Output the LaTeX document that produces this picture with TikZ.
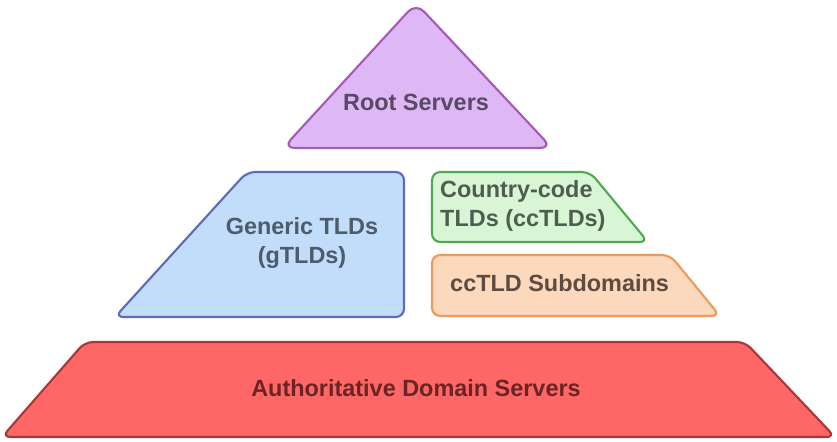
\documentclass[tikz,border=0pt]{standalone}
\usepackage{fontspec}
\setmainfont{Liberation Sans}
\usepackage{tikz}
\usetikzlibrary{positioning}

\definecolor{rootfill}{HTML}{DDB8F5}
\definecolor{rootdraw}{HTML}{A55BB5}
\definecolor{rootText}{HTML}{5A4866}
\definecolor{gtldfill}{HTML}{C2DDFA}
\definecolor{gtlddraw}{HTML}{5C6BB8}
\definecolor{gtldText}{HTML}{4D5B6B}
\definecolor{cctldfill}{HTML}{D8F5D6}
\definecolor{cctlddraw}{HTML}{4FAA4F}
\definecolor{cctldText}{HTML}{4E5E4E}
\definecolor{subfill}{HTML}{FCD8BC}
\definecolor{subdraw}{HTML}{EC9A5C}
\definecolor{subText}{HTML}{5E4C40}
\definecolor{authfill}{HTML}{FF6666}
\definecolor{authdraw}{HTML}{A83838}
\definecolor{authText}{HTML}{6B2424}

\tikzset{
  layer/.style={line width=1.8pt, rounded corners=7pt, line join=round},
  label/.style={font=\fontsize{20}{25}\selectfont\bfseries, align=center, inner sep=0pt}
}

\begin{document}
\begin{tikzpicture}[x=0.3mm,y=-0.3mm]
        \useasboundingbox (0,0) rectangle (837,441);
        % Root servers
        \filldraw[layer, rounded corners=10pt, fill=rootfill, draw=rootdraw] (416,3) -- (552,148) -- (283,148) -- cycle;
        \node[label, text=rootText] (root) at (416,102) {Root Servers};
        % generic TLDs
        \filldraw[layer, fill=gtldfill, draw=gtlddraw] (247,172) -- (404,172) -- (404,317) -- (115,317) -- cycle;
        \node[label, text=gtldText] (gtld) at (302,243) {Generic TLDs\\(gTLDs)};
        % country-code TLDs
        \filldraw[layer, fill=cctldfill, draw=cctlddraw] (432,172) -- (590,172) -- (648,242) -- (432,242) -- cycle;
        \node[label, text=cctldText, align=left, anchor=west] (cctld) at (440,206) {Country-code\\TLDs (ccTLDs)};
        % subdomains
        \filldraw[layer, fill=subfill, draw=subdraw] (432,255) -- (670,255) -- (720,316) -- (432,316) -- cycle;
        \node[label, text=subText, anchor=west] (sub) at (450,283) {ccTLD Subdomains};
        % authoritative
        \filldraw[layer, fill=authfill, draw=authdraw] (85,342) -- (745,342) -- (835,437) -- (2,437) -- cycle;
        \node[label, text=authText] (auth) at (416,388) {Authoritative Domain Servers};
      \end{tikzpicture}
\end{document}
